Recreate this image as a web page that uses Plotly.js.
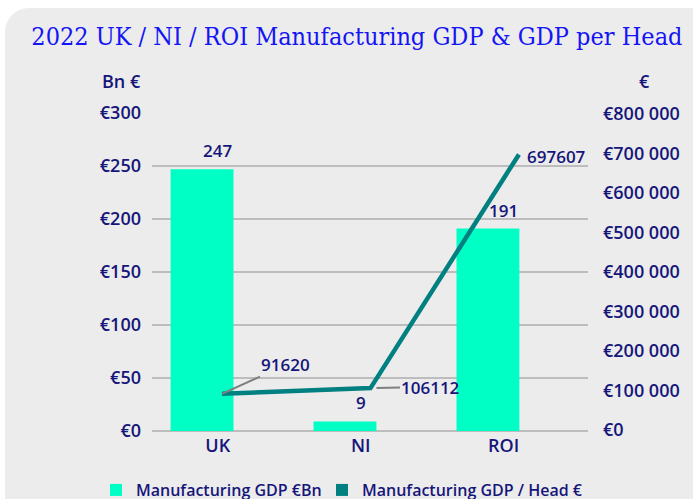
<!DOCTYPE html>
<html>
<head>
<meta charset="utf-8">
<script src="https://cdn.plot.ly/plotly-3.0.1.min.js"></script>
<style>
  html, body { margin: 0; padding: 0; background: #ffffff; overflow: hidden; }
  #bg { position: absolute; left: 5px; top: 8px; width: 740px; height: 540px; background: #ececec; border-radius: 24px; }
  #chart { position: absolute; left: 0; top: 0; width: 693px; height: 499px; }
</style>
</head>
<body>
<div id="bg"></div>
<div id="chart"></div>
<script>
const categories = ["UK", "NI", "ROI"];
const gdpBn = [247, 9, 191];
const gdpPerHead = [91620, 106112, 697607];
const leftTicks = [0, 50, 100, 150, 200, 250, 300];
const leftTickLabels = ["€0", "€50", "€100", "€150", "€200", "€250", "€300"];
const rightTicks = [0, 100000, 200000, 300000, 400000, 500000, 600000, 700000, 800000];
const rightTickLabels = ["€0", "€100 000", "€200 000", "€300 000", "€400 000", "€500 000", "€600 000", "€700 000", "€800 000"];

const navy = "#16167a";
const tickFont = { family: "Open Sans, Noto Sans, sans-serif", size: 18, color: navy, weight: 600 };

const traces = [
  {
    type: "bar", name: "Manufacturing GDP €Bn",
    x: categories, y: gdpBn, xaxis: "x", yaxis: "y",
    marker: { color: "#00ffc5" }, width: 0.44,
    hoverinfo: "skip", legend: "legend"
  },
  {
    type: "scatter", mode: "lines", name: "Manufacturing GDP / Head €",
    x: categories, y: gdpPerHead, xaxis: "x2", yaxis: "y2",
    line: { color: "#008080", width: 4.5 }, showlegend: false,
    hoverinfo: "skip"
  },
  {
    type: "bar", name: "Manufacturing GDP / Head €",
    x: [categories[0]], y: [null], xaxis: "x", yaxis: "y",
    marker: { color: "#008080" }, hoverinfo: "skip", legend: "legend2"
  }
];

const annotations = [];
const labelFont = { family: tickFont.family, size: 17, color: navy, weight: 600 };
categories.forEach((c, i) => {
  annotations.push({
    x: c, y: gdpBn[i], xref: "x", yref: "y", text: String(gdpBn[i]),
    showarrow: false, yanchor: "bottom", yshift: 5, font: labelFont
  });
});
annotations.push({
  x: categories[0], y: gdpPerHead[0], xref: "x2", yref: "y2", text: String(gdpPerHead[0]),
  showarrow: true, arrowhead: 0, arrowwidth: 2, arrowcolor: "#7f7f7f",
  ax: 64, ay: -29, standoff: 0, font: labelFont
});
annotations.push({
  x: categories[1], y: gdpPerHead[1], xref: "x2", yref: "y2", text: String(gdpPerHead[1]),
  showarrow: true, arrowhead: 0, arrowwidth: 2, arrowcolor: "#7f7f7f",
  ax: 60, ay: -1, standoff: 6, font: labelFont
});
annotations.push({
  x: categories[2], y: gdpPerHead[2], xref: "x2", yref: "y2", text: String(gdpPerHead[2]),
  showarrow: false, xanchor: "left", xshift: 6, yshift: -2, font: labelFont
});
annotations.push({
  xref: "paper", yref: "paper", x: -0.07, y: 1.0, yshift: 32, text: "Bn €",
  showarrow: false, xanchor: "center", yanchor: "middle", font: tickFont
});
annotations.push({
  xref: "paper", yref: "paper", x: 1.13, y: 1.0, yshift: 32, text: "€",
  showarrow: false, xanchor: "center", yanchor: "middle", font: tickFont
});

const legendFont = { family: tickFont.family, size: 16, color: navy, weight: 600 };
const layout = {
  width: 693, height: 499,
  margin: { l: 152, r: 105, t: 113, b: 68, pad: 0, autoexpand: false },
  paper_bgcolor: "rgba(0,0,0,0)", plot_bgcolor: "rgba(0,0,0,0)",
  title: {
    text: "2022 UK / NI / ROI Manufacturing GDP & GDP per Head",
    font: { family: "DejaVu Serif Condensed, DejaVu Serif, serif", size: 25, color: "#1414f5" },
    x: 0.515, xanchor: "center", y: 0.928, yanchor: "middle"
  },
  showlegend: true,
  legend: {
    orientation: "h", xref: "container", yref: "container",
    x: 96 / 693, xanchor: "left", y: 0.018, yanchor: "middle",
    font: legendFont, itemclick: false, bgcolor: "rgba(0,0,0,0)"
  },
  legend2: {
    orientation: "h", xref: "container", yref: "container",
    x: 322 / 693, xanchor: "left", y: 0.018, yanchor: "middle",
    font: legendFont, itemclick: false, bgcolor: "rgba(0,0,0,0)"
  },
  xaxis: {
    type: "category", range: [-0.46, 2.59], tickfont: tickFont,
    showline: false, showgrid: false, ticks: "", zeroline: false, fixedrange: true,
    ticklabelstandoff: 2
  },
  xaxis2: {
    type: "category", overlaying: "x", range: [-0.471, 2.465], visible: false, fixedrange: true
  },
  yaxis: {
    range: [0, 300], tickvals: leftTicks, ticktext: leftTickLabels, tickfont: tickFont,
    showgrid: true, gridcolor: "#bdbdbd", gridwidth: 1.5, zeroline: true, zerolinecolor: "#bdbdbd",
    zerolinewidth: 1.5, ticks: "", ticklabelstandoff: 10, fixedrange: true
  },
  yaxis2: {
    overlaying: "y", side: "right", range: [-2500, 802500],
    tickvals: rightTicks, ticktext: rightTickLabels, tickfont: tickFont,
    showgrid: false, zeroline: false, ticks: "", ticklabelstandoff: 14, fixedrange: true
  },
  annotations: annotations,
  bargap: 0.56
};

Plotly.newPlot("chart", traces, layout, { displayModeBar: false, staticPlot: true });
</script>
</body>
</html>
